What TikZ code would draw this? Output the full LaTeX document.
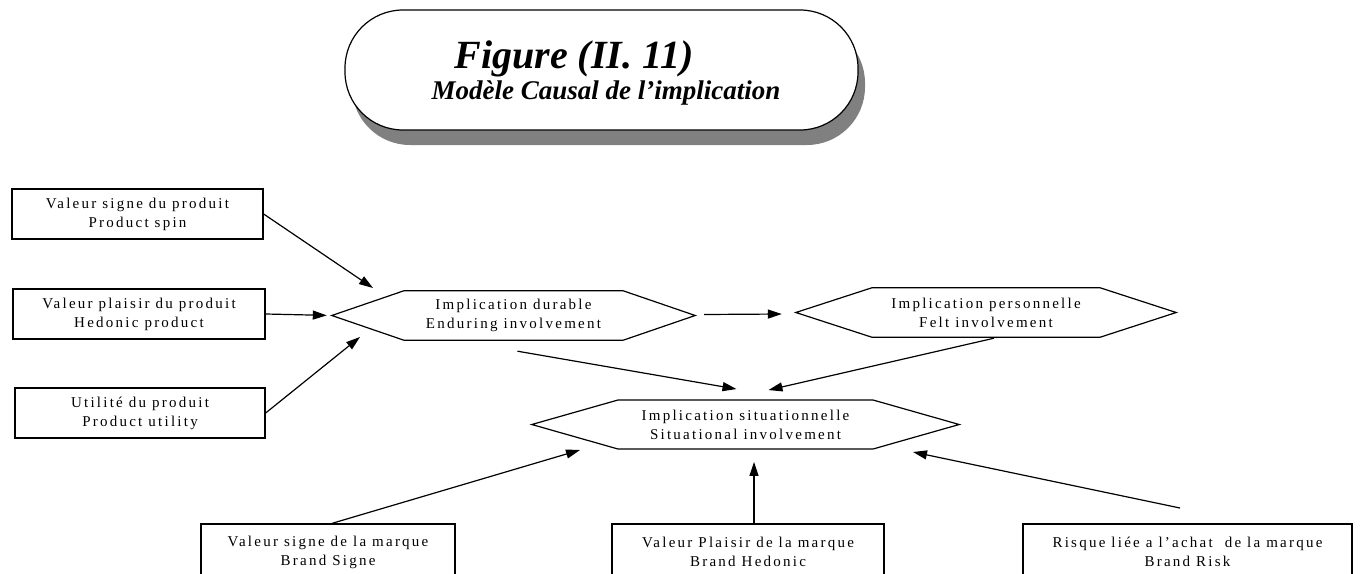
\documentclass[tikz,border=0pt]{standalone}
\usepackage{fontspec}
\setmainfont{Liberation Serif}
\newfontfamily\boxfont[LetterSpace=15]{Liberation Serif}
\usetikzlibrary{arrows.meta,calc,shadows}

% outline of a flat hexagon around a named node; #2 = horizontal run of the slanted sides
\newcommand\hexoutline[2]{%
  \draw[hexline] (#1.west) -- ($(#1.north west)+(#2,0)$) -- ($(#1.north east)+(-#2,0)$)
    -- (#1.east) -- ($(#1.south east)+(-#2,0)$) -- ($(#1.south west)+(#2,0)$) -- cycle;}

\begin{document}
\begin{tikzpicture}[x=1pt,y=-1pt,
  every node/.style={inner sep=0pt},
  boxtext/.style={align=center, font=\boxfont\fontsize{15}{19}\selectfont},
  box/.style={boxtext, draw, line width=1.3pt, fill=white},
  hexline/.style={line width=1.2pt},
  arr/.style={line width=1.2pt, -{Triangle[length=14pt,width=9pt]}},
  titlefont/.style={font=\bfseries\itshape\fontsize{#1}{#1}\selectfont},
]
\useasboundingbox (0,0) rectangle (1362,573);
\clip (0,0) rectangle (1362,573);

% title banner with its shadow
\node[draw, line width=1.2pt, fill=white, rounded corners=58pt,
      minimum width=513pt, minimum height=120pt,
      drop shadow={shadow xshift=7pt, shadow yshift=-15pt, fill=black!50, opacity=1}]
      (banner) at (601.5,70) {};
\node[titlefont=40, anchor=base] (ttl1) at (574,68) {Figure (II. 11)};
\node[titlefont=27, anchor=base] (ttl2) at (606,99) {Modèle Causal de l’implication};

% product-level antecedents
\node[box, minimum width=251pt, minimum height=50pt] (b1) at (137.5,214) {Valeur signe du produit\\Product spin};
\node[box, minimum width=252pt, minimum height=50pt] (b2) at (139,314) {Valeur plaisir du produit\\Hedonic product};
\node[box, minimum width=250pt, minimum height=50pt] (b3) at (140,413) {Utilité du produit\\Product utility};

% involvement constructs
\node[boxtext, minimum width=363pt, minimum height=49pt] (dur) at (513.5,315.5) {Implication durable\\Enduring involvement};
\hexoutline{dur}{72}
\node[boxtext, minimum width=380pt, minimum height=49pt] (per) at (986,312.5) {Implication personnelle\\Felt involvement};
\hexoutline{per}{76}
\node[boxtext, minimum width=427pt, minimum height=48.5pt] (sit) at (745.5,424.5) {Implication situationnelle\\Situational involvement};
\hexoutline{sit}{86}

% brand-level antecedents
\node[box, minimum width=254pt, minimum height=56pt] (bs) at (328,552) {Valeur signe de la marque\\Brand Signe};
\node[box, minimum width=272pt, minimum height=56pt] (bh) at (748,552) {Valeur Plaisir de la marque\\Brand Hedonic};
\node[box, minimum width=329pt, minimum height=56pt] (br) at (1187.5,552) {Risque liée a l’achat\ \ de la marque\\Brand Risk};

% causal links
\coordinate (t1) at (373,288);
\coordinate (t3) at (360,337);
\coordinate (t7) at (580,450);
\coordinate (s9) at (1180,508);
\coordinate (t9) at (913,452);

\draw[arr] (b1.east) -- (t1);
\draw[arr, shorten >=5pt] (b2.east) -- (dur.west);
\draw[arr] (b3.east) -- (t3);
\draw[arr] ($(dur.east)+(9,-1)$) -- ($(per.west)+(-14,1.5)$);
\draw[arr] ($(dur.south)+(4,11)$) -- ($(sit.north)+(-9,-11)$);
\draw[arr] ($(per.south)+(8,1)$) -- ($(sit.north)+(23,-10)$);
\draw[arr] ($(bs.north)+(4,0)$) -- (t7);
\draw[arr] ($(bh.north)+(6,0)$) -- ($(sit.south)+(8.5,13)$);
\draw[arr] (s9) -- (t9);
\end{tikzpicture}
\end{document}
